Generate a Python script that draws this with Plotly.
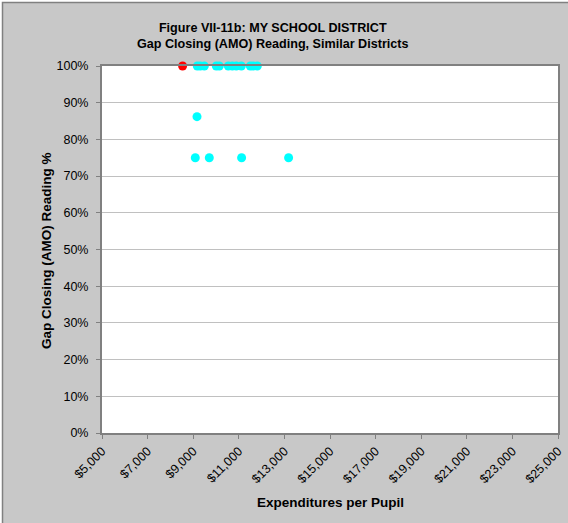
import plotly.graph_objects as go

# Data
other_spend = [9180, 9311, 9487, 10013, 10145, 10539, 10715, 10890, 11110, 11505, 11636, 11811,
               9167, 9092, 9706, 11123, 13184]
other_score = [1.0, 1.0, 1.0, 1.0, 1.0, 1.0, 1.0, 1.0, 1.0, 1.0, 1.0, 1.0,
               0.862, 0.75, 0.75, 0.75, 0.75]
my_spend = [8535]
my_score = [1.0]

x_ticks = list(range(5000, 25001, 2000))
x_tick_labels = ["$5,000", "$7,000", "$9,000", "$11,000", "$13,000", "$15,000",
                 "$17,000", "$19,000", "$21,000", "$23,000", "$25,000"]

W, H = 568, 523
L, R, T, B = 102, 558, 66, 433
pw, ph = R - L, B - T


def px(x):
    return (x - L) / pw


def py(y):
    return (B - y) / ph


fig = go.Figure()
fig.add_trace(go.Scatter(x=other_spend, y=other_score, mode="markers",
                         marker=dict(color="#00FFFF", size=9), cliponaxis=False,
                         showlegend=False))
fig.add_trace(go.Scatter(x=my_spend, y=my_score, mode="markers",
                         marker=dict(color="#FF0000", size=9), cliponaxis=False,
                         showlegend=False))

font = "Arial, Liberation Sans, sans-serif"
fig.update_layout(
    width=W, height=H,
    margin=dict(l=L, r=W - R, t=T, b=H - B, autoexpand=False),
    paper_bgcolor="#c8c8c8",
    plot_bgcolor="white",
    font=dict(family=font, size=12, color="black"),
    showlegend=False,
    annotations=[
        dict(text="<b>Figure VII-11b: MY SCHOOL DISTRICT<br>Gap Closing (AMO) Reading, Similar Districts</b>",
             x=px(273), y=py(36), xref="paper", yref="paper", showarrow=False,
             font=dict(size=12.6), xanchor="center", yanchor="middle"),
        dict(text="<b>Expenditures per Pupil</b>", x=px(330), y=py(502), xref="paper", yref="paper",
             showarrow=False, font=dict(size=13.5), xanchor="center", yanchor="middle"),
        dict(text="<b>Gap Closing (AMO) Reading %</b>", x=px(46), y=py(251), xref="paper", yref="paper",
             showarrow=False, font=dict(size=13.5), textangle=-90, xanchor="center", yanchor="middle"),
    ],
    shapes=[
        dict(type="rect", xref="paper", yref="paper", x0=px(-5), x1=px(2), y0=py(-5), y1=py(700),
             fillcolor="white", line=dict(width=0), layer="above"),
        dict(type="rect", xref="paper", yref="paper", x0=px(-5), x1=px(700), y0=py(-5), y1=py(2),
             fillcolor="white", line=dict(width=0), layer="above"),
        dict(type="rect", xref="paper", yref="paper", x0=px(2.5), x1=px(700), y0=py(2.5), y1=py(700),
             fillcolor="rgba(0,0,0,0)", line=dict(width=1.5, color="#808080"), layer="above"),
    ],
)

fig.update_xaxes(range=[5000, 25000], tickvals=x_ticks, ticktext=x_tick_labels,
                 tickangle=-45, showgrid=False, zeroline=False, automargin=False,
                 showline=True, linecolor="#808080", linewidth=2, mirror=True,
                 ticks="outside", ticklen=4, tickcolor="#808080",
                 tickfont=dict(size=12.5))
fig.update_yaxes(range=[0, 1], dtick=0.1, tickformat=".0%", showgrid=True,
                 gridcolor="#c0c0c0", gridwidth=1, zeroline=False, automargin=False,
                 showline=True, linecolor="#808080", linewidth=2, mirror=True,
                 ticks="outside", ticklen=4, tickcolor="#808080",
                 ticklabelstandoff=5, tickfont=dict(size=12.5))

fig.write_html("out.html", config={"displayModeBar": False},
               post_script="document.body.style.margin='0px';document.body.style.overflow='hidden';")
